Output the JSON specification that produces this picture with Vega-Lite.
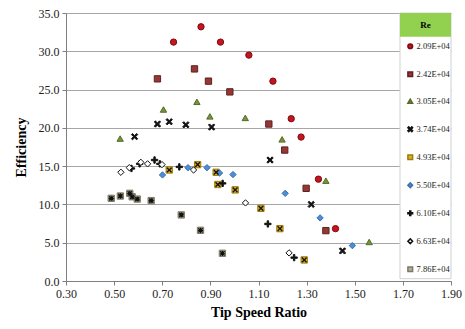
{
  "$schema": "https://vega.github.io/schema/vega-lite/v6.json",
  "width": 385,
  "height": 268,
  "autosize": {"type": "none"},
  "padding": {"left": 66, "top": 13, "right": 14, "bottom": 48},
  "background": "white",
  "config": {
    "view": {"stroke": null},
    "font": "Liberation Serif",
    "axis": {
      "labelFont": "Liberation Serif",
      "labelFontSize": 12,
      "labelColor": "#222",
      "labelOverlap": false,
      "labelFlush": false,
      "titleFont": "Liberation Serif",
      "titleFontSize": 14,
      "titleFontWeight": "bold",
      "titleColor": "#000",
      "domainColor": "#7f7f7f",
      "tickColor": "#7f7f7f",
      "tickSize": 4,
      "gridColor": "#a6a6a6",
      "gridWidth": 1
    }
  },
  "data": {
    "values": [
      {"Re": "2.09E+04", "TSR": 0.747, "Eff": 31.2},
      {"Re": "2.09E+04", "TSR": 0.861, "Eff": 33.2},
      {"Re": "2.09E+04", "TSR": 0.942, "Eff": 31.2},
      {"Re": "2.09E+04", "TSR": 1.060, "Eff": 29.5},
      {"Re": "2.09E+04", "TSR": 1.160, "Eff": 26.1},
      {"Re": "2.09E+04", "TSR": 1.236, "Eff": 21.2},
      {"Re": "2.09E+04", "TSR": 1.277, "Eff": 18.8},
      {"Re": "2.09E+04", "TSR": 1.349, "Eff": 13.3},
      {"Re": "2.09E+04", "TSR": 1.420, "Eff": 6.84},
      {"Re": "2.42E+04", "TSR": 0.680, "Eff": 26.4},
      {"Re": "2.42E+04", "TSR": 0.834, "Eff": 27.7},
      {"Re": "2.42E+04", "TSR": 0.892, "Eff": 26.1},
      {"Re": "2.42E+04", "TSR": 0.981, "Eff": 24.7},
      {"Re": "2.42E+04", "TSR": 1.143, "Eff": 20.5},
      {"Re": "2.42E+04", "TSR": 1.209, "Eff": 17.1},
      {"Re": "2.42E+04", "TSR": 1.298, "Eff": 12.1},
      {"Re": "2.42E+04", "TSR": 1.380, "Eff": 6.58},
      {"Re": "3.05E+04", "TSR": 0.525, "Eff": 18.6},
      {"Re": "3.05E+04", "TSR": 0.705, "Eff": 22.4},
      {"Re": "3.05E+04", "TSR": 0.844, "Eff": 23.4},
      {"Re": "3.05E+04", "TSR": 0.898, "Eff": 21.5},
      {"Re": "3.05E+04", "TSR": 1.045, "Eff": 21.3},
      {"Re": "3.05E+04", "TSR": 1.198, "Eff": 18.5},
      {"Re": "3.05E+04", "TSR": 1.380, "Eff": 13.1},
      {"Re": "3.05E+04", "TSR": 1.560, "Eff": 5.1},
      {"Re": "3.74E+04", "TSR": 0.585, "Eff": 18.85},
      {"Re": "3.74E+04", "TSR": 0.680, "Eff": 20.5},
      {"Re": "3.74E+04", "TSR": 0.729, "Eff": 20.8},
      {"Re": "3.74E+04", "TSR": 0.798, "Eff": 20.4},
      {"Re": "3.74E+04", "TSR": 0.905, "Eff": 20.1},
      {"Re": "3.74E+04", "TSR": 1.148, "Eff": 15.8},
      {"Re": "3.74E+04", "TSR": 1.319, "Eff": 10.0},
      {"Re": "3.74E+04", "TSR": 1.449, "Eff": 3.93},
      {"Re": "4.93E+04", "TSR": 0.729, "Eff": 14.5},
      {"Re": "4.93E+04", "TSR": 0.847, "Eff": 15.2},
      {"Re": "4.93E+04", "TSR": 0.924, "Eff": 14.2},
      {"Re": "4.93E+04", "TSR": 0.931, "Eff": 12.6},
      {"Re": "4.93E+04", "TSR": 1.003, "Eff": 11.9},
      {"Re": "4.93E+04", "TSR": 1.110, "Eff": 9.49},
      {"Re": "4.93E+04", "TSR": 1.189, "Eff": 6.84},
      {"Re": "4.93E+04", "TSR": 1.290, "Eff": 2.75},
      {"Re": "5.50E+04", "TSR": 0.701, "Eff": 13.85},
      {"Re": "5.50E+04", "TSR": 0.807, "Eff": 14.8},
      {"Re": "5.50E+04", "TSR": 0.886, "Eff": 14.8},
      {"Re": "5.50E+04", "TSR": 0.938, "Eff": 14.1},
      {"Re": "5.50E+04", "TSR": 0.994, "Eff": 13.9},
      {"Re": "5.50E+04", "TSR": 1.211, "Eff": 11.45},
      {"Re": "5.50E+04", "TSR": 1.356, "Eff": 8.24},
      {"Re": "5.50E+04", "TSR": 1.490, "Eff": 4.62},
      {"Re": "6.10E+04", "TSR": 0.572, "Eff": 14.7},
      {"Re": "6.10E+04", "TSR": 0.606, "Eff": 15.3},
      {"Re": "6.10E+04", "TSR": 0.668, "Eff": 15.8},
      {"Re": "6.10E+04", "TSR": 0.690, "Eff": 15.3},
      {"Re": "6.10E+04", "TSR": 0.771, "Eff": 14.9},
      {"Re": "6.10E+04", "TSR": 0.951, "Eff": 12.75},
      {"Re": "6.10E+04", "TSR": 1.139, "Eff": 7.45},
      {"Re": "6.10E+04", "TSR": 1.248, "Eff": 3.05},
      {"Re": "6.63E+04", "TSR": 0.528, "Eff": 14.2},
      {"Re": "6.63E+04", "TSR": 0.563, "Eff": 14.8},
      {"Re": "6.63E+04", "TSR": 0.611, "Eff": 15.5},
      {"Re": "6.63E+04", "TSR": 0.639, "Eff": 15.3},
      {"Re": "6.63E+04", "TSR": 0.699, "Eff": 15.2},
      {"Re": "6.63E+04", "TSR": 0.830, "Eff": 14.5},
      {"Re": "6.63E+04", "TSR": 1.046, "Eff": 10.2},
      {"Re": "6.63E+04", "TSR": 1.227, "Eff": 3.67},
      {"Re": "7.86E+04", "TSR": 0.488, "Eff": 10.8},
      {"Re": "7.86E+04", "TSR": 0.526, "Eff": 11.1},
      {"Re": "7.86E+04", "TSR": 0.565, "Eff": 11.45},
      {"Re": "7.86E+04", "TSR": 0.575, "Eff": 11.0},
      {"Re": "7.86E+04", "TSR": 0.596, "Eff": 10.7},
      {"Re": "7.86E+04", "TSR": 0.654, "Eff": 10.5},
      {"Re": "7.86E+04", "TSR": 0.779, "Eff": 8.63},
      {"Re": "7.86E+04", "TSR": 0.859, "Eff": 6.62},
      {"Re": "7.86E+04", "TSR": 0.950, "Eff": 3.62}
    ]
  },
  "layer": [
    {
      "mark": {"type": "point", "filled": true, "opacity": 1, "strokeWidth": 1, "size": 40},
      "encoding": {
        "x": {
          "field": "TSR", "type": "quantitative",
          "scale": {"domain": [0.3, 1.9], "nice": false, "zero": false},
          "axis": {"values": [0.3, 0.5, 0.7, 0.9, 1.1, 1.3, 1.5, 1.7, 1.9], "format": ".2f", "grid": false, "title": "Tip Speed Ratio", "labelPadding": 3, "titlePadding": 6}
        },
        "y": {
          "field": "Eff", "type": "quantitative",
          "scale": {"domain": [0, 35], "nice": false, "zero": true},
          "axis": {"values": [0, 5, 10, 15, 20, 25, 30, 35], "tickCount": 8, "format": ".1f", "grid": true, "title": "Efficiency", "labelPadding": 3, "titlePadding": 10}
        },
        "shape": {
          "field": "Re", "type": "nominal",
          "scale": {
            "domain": ["2.09E+04", "2.42E+04", "3.05E+04", "3.74E+04", "4.93E+04", "5.50E+04", "6.10E+04", "6.63E+04", "7.86E+04"],
            "range": ["circle", "square", "triangle-up", "M-1,-0.65L-0.65,-1L0,-0.35L0.65,-1L1,-0.65L0.35,0L1,0.65L0.65,1L0,0.35L-0.65,1L-1,0.65L-0.35,0Z", "square", "diamond", "M-0.22,-1H0.22V-0.22H1V0.22H0.22V1H-0.22V0.22H-1V-0.22H-0.22Z", "diamond", "square"]
          },
          "legend": {
            "title": null,
            "orient": "none",
            "legendX": 334,
            "legendY": 23,
            "padding": 6,
            "labelFont": "Liberation Serif",
            "labelFontSize": 8.5,
            "labelColor": "#222",
            "labelOffset": 2,
            "rowPadding": 16,
            "symbolSize": 22
          }
        },
        "fill": {
          "field": "Re", "type": "nominal",
          "scale": {
            "domain": ["2.09E+04", "2.42E+04", "3.05E+04", "3.74E+04", "4.93E+04", "5.50E+04", "6.10E+04", "6.63E+04", "7.86E+04"],
            "range": ["#C8141E", "#953735", "#77933C", "#111111", "#E3B21C", "#4A8ED8", "#111111", "#ffffff", "#B3B196"]
          },
          "legend": {"title": null}
        },
        "stroke": {
          "field": "Re", "type": "nominal",
          "scale": {
            "domain": ["2.09E+04", "2.42E+04", "3.05E+04", "3.74E+04", "4.93E+04", "5.50E+04", "6.10E+04", "6.63E+04", "7.86E+04"],
            "range": ["#7a0b10", "#5e2120", "#556b28", "#111111", "#9b7a10", "#3a6fb0", "#111111", "#111111", "#7c7a66"]
          },
          "legend": {"title": null}
        }
      }
    },
    {
      "data": {"values": [{"label": "Re"}]},
      "mark": {"type": "rect", "fill": "white", "stroke": "#d0d0d0", "strokeWidth": 1},
      "encoding": {
        "x": {"datum": 1.688, "type": "quantitative"},
        "x2": {"datum": 1.9},
        "y": {"datum": 35, "type": "quantitative"},
        "y2": {"datum": 0.3}
      }
    },
    {
      "data": {"values": [{"label": "Re"}]},
      "mark": {"type": "rect", "fill": "#92D050", "stroke": null},
      "encoding": {
        "x": {"datum": 1.688, "type": "quantitative"},
        "x2": {"datum": 1.9},
        "y": {"datum": 35, "type": "quantitative"},
        "y2": {"datum": 31.9}
      }
    },
    {
      "data": {"values": [{"label": "Re"}]},
      "mark": {"type": "text", "font": "Liberation Serif", "fontSize": 9, "fontWeight": "bold", "fill": "#000000", "align": "center", "baseline": "middle"},
      "encoding": {
        "text": {"field": "label"},
        "x": {"datum": 1.794, "type": "quantitative"},
        "y": {"datum": 33.45, "type": "quantitative"}
      }
    },
    {
      "transform": [{"filter": {"field": "Re", "equal": "4.93E+04"}}],
      "mark": {"type": "point", "filled": true, "opacity": 1, "fill": "#111111", "stroke": null, "size": 32, "shape": "M-1,-0.65L-0.65,-1L0,-0.35L0.65,-1L1,-0.65L0.35,0L1,0.65L0.65,1L0,0.35L-0.65,1L-1,0.65L-0.35,0Z"},
      "encoding": {
        "x": {"field": "TSR", "type": "quantitative"},
        "y": {"field": "Eff", "type": "quantitative"}
      }
    },
    {
      "transform": [{"filter": {"field": "Re", "equal": "7.86E+04"}}],
      "mark": {"type": "point", "filled": true, "opacity": 1, "fill": "#111111", "stroke": null, "size": 28, "shape": "M-1,-0.65L-0.65,-1L0,-0.35L0.65,-1L1,-0.65L0.35,0L1,0.65L0.65,1L0,0.35L-0.65,1L-1,0.65L-0.35,0Z M-0.22,-1H0.22V-0.22H1V0.22H0.22V1H-0.22V0.22H-1V-0.22H-0.22Z"},
      "encoding": {
        "x": {"field": "TSR", "type": "quantitative"},
        "y": {"field": "Eff", "type": "quantitative"}
      }
    }
  ]
}
